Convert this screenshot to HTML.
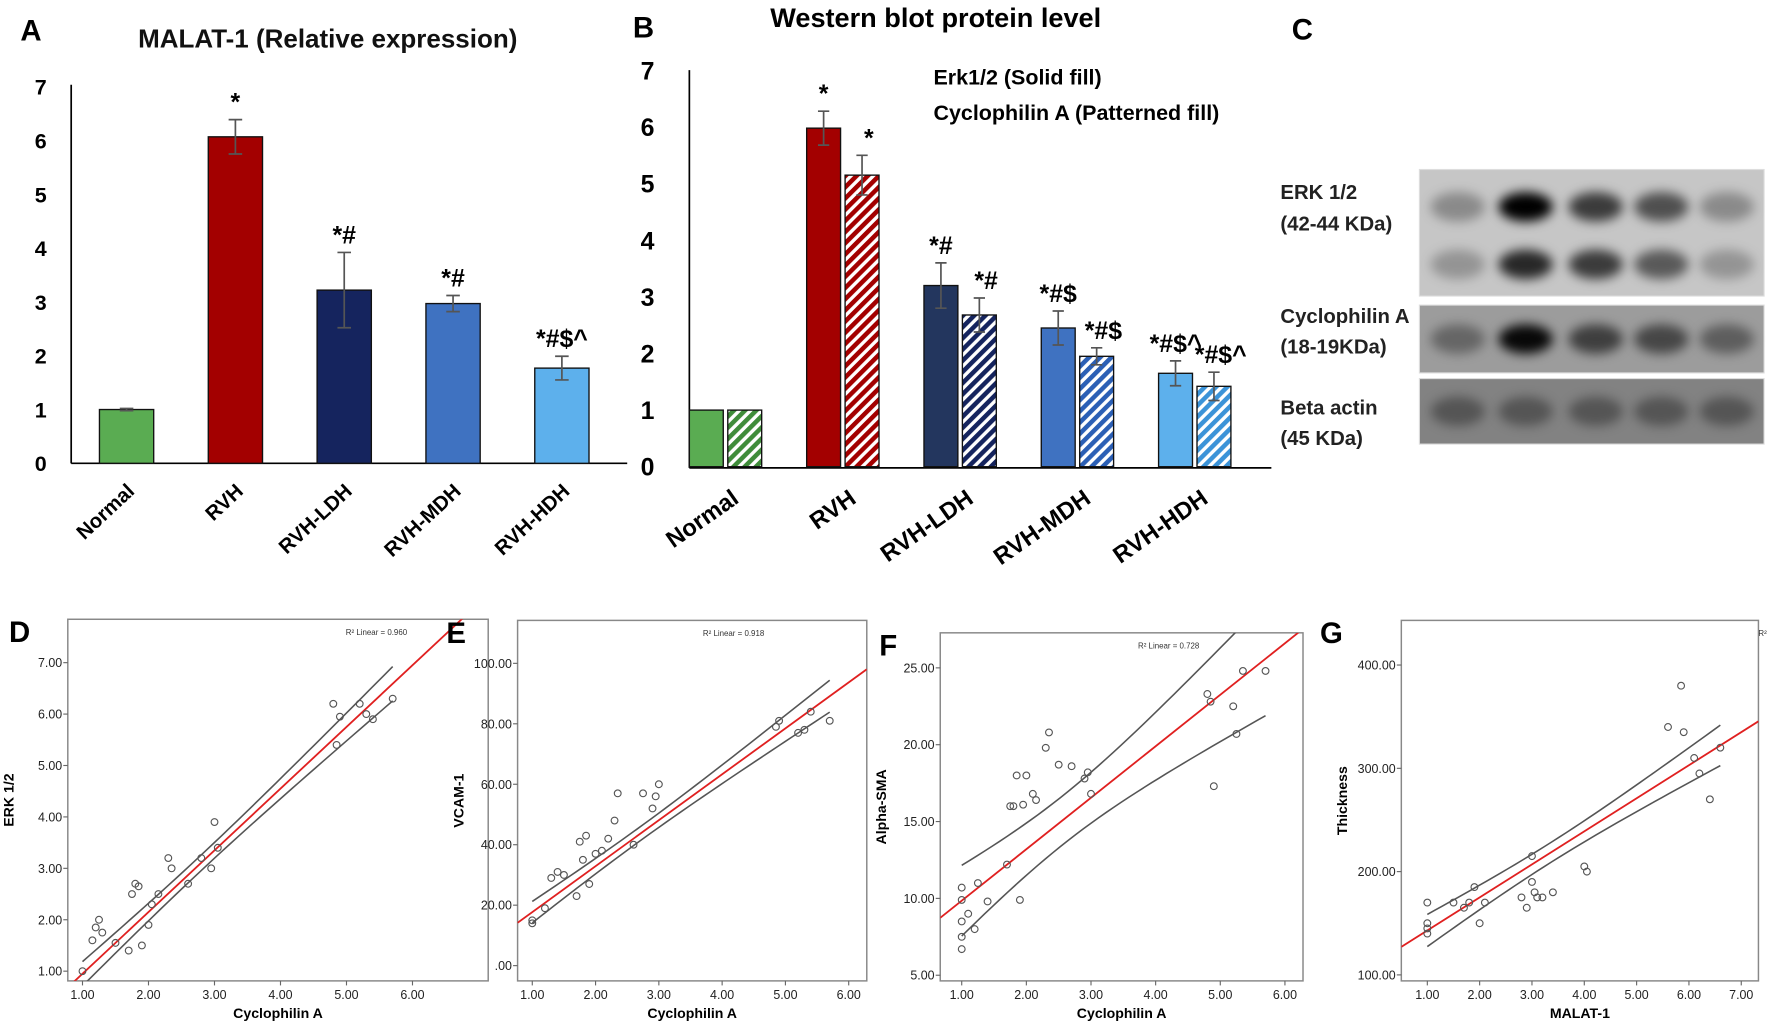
<!DOCTYPE html>
<html><head><meta charset="utf-8"><style>
html,body{margin:0;padding:0;background:#fff;}
svg{display:block;}
text{font-family:"Liberation Sans",sans-serif;}
</style></head><body>
<svg id="fig" width="1772" height="1034" viewBox="0 0 1568 915" preserveAspectRatio="none" xmlns="http://www.w3.org/2000/svg">
<defs>
<filter id="blur" x="-50%" y="-50%" width="200%" height="200%"><feGaussianBlur stdDeviation="5"/></filter>
</defs>
<g id="gA"></g>
<g id="gB"></g>
<g id="gC"></g>
<g id="gD"></g>
<g id="gE"></g>
<g id="gF"></g>
<g id="gG"></g>
</svg>
<script>
const NS="http://www.w3.org/2000/svg";
// ---- Panel A data ----
const catsA=["Normal","RVH","RVH-LDH","RVH-MDH","RVH-HDH"];
const valsA=[1.0,6.07,3.22,2.97,1.77];
const errA=[0.02,0.32,0.7,0.15,0.22];
const sigA=["","*","*#","*#","*#$^"];
const ticksA=[0,1,2,3,4,5,6,7];
// ---- Panel B data ----
const catsB=["Normal","RVH","RVH-LDH","RVH-MDH","RVH-HDH"];
const erkB=[1.0,5.98,3.2,2.45,1.65];
const erkErrB=[0.0,0.3,0.4,0.3,0.22];
const cypB=[1.0,5.15,2.68,1.95,1.42];
const cypErrB=[0.0,0.35,0.3,0.15,0.25];
const sigErkB=["","*","*#","*#$","*#$^"];
const sigCypB=["","*","*#","*#$","*#$^"];
const ticksB=[0,1,2,3,4,5,6,7];
// ---- Scatter data ----
const dX=[1.0,1.15,1.2,1.25,1.3,1.5,1.7,1.75,1.8,1.85,1.9,2.0,2.05,2.15,2.3,2.35,2.6,2.8,2.95,3.0,3.05,4.8,4.85,4.9,5.2,5.3,5.4,5.7];
const dY=[1.0,1.6,1.85,2.0,1.75,1.55,1.4,2.5,2.7,2.65,1.5,1.9,2.3,2.5,3.2,3.0,2.7,3.2,3.0,3.9,3.4,6.2,5.4,5.95,6.2,6.0,5.9,6.3];
const eX=[1.0,1.0,1.2,1.3,1.4,1.5,1.7,1.75,1.8,1.85,1.9,2.0,2.1,2.2,2.3,2.35,2.6,2.75,2.9,2.95,3.0,4.85,4.9,5.2,5.3,5.4,5.7];
const eY=[15,14,19,29,31,30,23,41,35,43,27,37,38,42,48,57,40,57,52,56,60,79,81,77,78,84,81];
const fX=[1.0,1.0,1.0,1.0,1.0,1.1,1.2,1.25,1.4,1.7,1.75,1.8,1.85,1.9,1.95,2.0,2.1,2.15,2.3,2.35,2.5,2.7,2.9,2.95,3.0,4.8,4.85,4.9,5.2,5.25,5.35,5.7];
const fY=[10.7,9.9,8.5,7.5,6.7,9.0,8.0,11.0,9.8,12.2,16,16,18,9.9,16.1,18,16.8,16.4,19.8,20.8,18.7,18.6,17.8,18.2,16.8,23.3,22.8,17.3,22.5,20.7,24.8,24.8];
const gX=[1.0,1.0,1.0,1.0,1.5,1.7,1.8,1.9,2.0,2.1,2.8,2.9,3.0,3.0,3.05,3.1,3.2,3.4,4.0,4.05,5.6,5.85,5.9,6.1,6.2,6.4,6.6];
const gY=[170,150,145,140,170,165,170,185,150,170,175,165,215,190,180,175,175,180,205,200,340,380,335,310,295,270,320];
const dFit=[-0.25,1.2], eFit=[2.5,15.2], fFit=[6.5,3.35], gFit=[111,32];
const dTicksY=[1,2,3,4,5,6,7], dTicksX=[1,2,3,4,5,6];
const eTicksY=[0,20,40,60,80,100], eTicksX=[1,2,3,4,5,6];
const fTicksY=[5,10,15,20,25], fTicksX=[1,2,3,4,5,6];
const gTicksY=[100,200,300,400], gTicksX=[1,2,3,4,5,6,7];

function el(parent,tag,attrs,txt){const e=document.createElementNS(NS,tag);for(const k in attrs)e.setAttribute(k,attrs[k]);if(txt!==undefined)e.textContent=txt;parent.appendChild(e);return e;}

// ================= Panel A =================
(function(){
const g=document.getElementById('gA');
const yA=v=>410-v*47.6;
const xA=i=>112+i*96.3;
let t=el(g,'text',{x:18,y:36,'font-size':26,'font-weight':'bold'},'A');

t=el(g,'text',{x:290,y:42,'font-size':23,'font-weight':'bold','text-anchor':'middle',fill:'#111'},'MALAT-1 (Relative expression)');

let l=el(g,'line',{x1:63,y1:75,x2:63,y2:410,stroke:'#000','stroke-width':1.5});

l=el(g,'line',{x1:63,y1:410,x2:555,y2:410,stroke:'#000','stroke-width':1.5});

ticksA.forEach(v=>{const tt=el(g,'text',{x:36,y:yA(v)+7,'font-size':19,'font-weight':'bold','text-anchor':'middle'},String(v));
});
const cols=['#5aac52','#a30000','#15245e','#3f72c1','#5db0ec'];
catsA.forEach((c,i)=>{
 const x=xA(i);
 const r=el(g,'rect',{x:x-24,y:yA(valsA[i]),width:48,height:410-yA(valsA[i]),fill:cols[i],stroke:'#111','stroke-width':1.2});
 
 const top=yA(valsA[i]+errA[i]),bot=yA(valsA[i]-errA[i]);
 const eb=el(g,'path',{d:`M${x},${top}V${bot}M${x-6},${top}H${x+6}M${x-6},${bot}H${x+6}`,stroke:'#555','stroke-width':1.5,fill:'none'});
 
 if(sigA[i]){const s=el(g,'text',{x:x,y:top-8,'font-size':22,'font-weight':'bold','text-anchor':'middle'},sigA[i]);
 }
 const lb=el(g,'text',{x:x+8,y:436,'font-size':18,'font-weight':'bold','text-anchor':'end',transform:`rotate(-43 ${x+8} 436)`},c);
 
});
})();

// ================= Panel B =================
(function(){
const g=document.getElementById('gB');
const yB=v=>413-v*50.1;
const xB=i=>625+i*103.8;
const defs=document.querySelector('defs');
const cols=['#5aac52','#a30000','#23365e','#3f72c1','#5db0ec'];
const dark=['#3f8c3a','#a30000','#15245e','#2b5fb5','#3b93d8'];
cols.forEach((c,i)=>{
 const p=el(defs,'pattern',{id:'hatch'+i,patternUnits:'userSpaceOnUse',width:7,height:7,patternTransform:'rotate(45)'});
 el(p,'rect',{x:0,y:0,width:7,height:7,fill:'#fff'});
 el(p,'rect',{x:0,y:0,width:4,height:7,fill:dark[i]});
});
let t=el(g,'text',{x:560,y:33,'font-size':26,'font-weight':'bold'},'B');

t=el(g,'text',{x:828,y:24,'font-size':24,'font-weight':'bold','text-anchor':'middle'},'Western blot protein level');

t=el(g,'text',{x:826,y:75,'font-size':19,'font-weight':'bold'},'Erk1/2 (Solid fill)');

t=el(g,'text',{x:826,y:106,'font-size':19,'font-weight':'bold'},'Cyclophilin A (Patterned fill)');

let l=el(g,'line',{x1:610,y1:62,x2:610,y2:414,stroke:'#000','stroke-width':1.5});

l=el(g,'line',{x1:610,y1:414,x2:1125,y2:414,stroke:'#000','stroke-width':1.5});

ticksB.forEach(v=>{const tt=el(g,'text',{x:573,y:yB(v)+8,'font-size':22,'font-weight':'bold','text-anchor':'middle'},String(v));
});
catsB.forEach((c,i)=>{
 const x=xB(i);
 [[erkB,erkErrB,sigErkB,0,cols[i]],[cypB,cypErrB,sigCypB,34,'url(#hatch'+i+')']].forEach(([vals,errs,sig,off,fill],k)=>{
  const cx=x+off;
  const r=el(g,'rect',{x:cx-15,y:yB(vals[i]),width:30,height:413-yB(vals[i]),fill:fill,stroke:'#111','stroke-width':1.2});
  
  const top=yB(vals[i]+errs[i]),bot=yB(vals[i]-errs[i]);
  if(errs[i]>0){const eb=el(g,'path',{d:`M${cx},${top}V${bot}M${cx-5},${top}H${cx+5}M${cx-5},${bot}H${cx+5}`,stroke:'#555','stroke-width':1.5,fill:'none'});
  }
  if(sig[i]){const s=el(g,'text',{x:cx+(k?6:0),y:top-8,'font-size':22,'font-weight':'bold','text-anchor':'middle'},sig[i]);
  }
 });
 const lb=el(g,'text',{x:x+30,y:444,'font-size':21,'font-weight':'bold','text-anchor':'end',transform:`rotate(-35 ${x+30} 444)`},c);
 
});
})();

// ================= Panel C =================
(function(){
const g=document.getElementById('gC');
let t=el(g,'text',{x:1143,y:35,'font-size':26,'font-weight':'bold'},'C');

const labels=[['ERK 1/2',176],['(42-44 KDa)',204],['Cyclophilin A',286],['(18-19KDa)',313],['Beta actin',367],['(45 KDa)',394]];
labels.forEach(([s,y])=>{const tt=el(g,'text',{x:1133,y:y,'font-size':18,'font-weight':'bold',fill:'#222'},s);
});
const lanes=[1290,1350,1412,1470,1528];
const blots=[{y:150,h:112,bg:'#c6c6c6',rows:[[183,[.3,1,.7,.6,.3]],[234,[.25,.8,.7,.55,.25]]],name:'erk-blot'},
 {y:270,h:60,bg:'#9c9c9c',rows:[[300,[.35,.95,.6,.55,.4]]],name:'cyclophilin-blot'},
 {y:335,h:58,bg:'#828282',rows:[[364,[.35,.35,.35,.35,.35]]],name:'beta-actin-blot'}];
blots.forEach(b=>{
 const r=el(g,'rect',{x:1256,y:b.y,width:305,height:b.h,fill:b.bg,stroke:'#ddd','stroke-width':1});
 
 b.rows.forEach(([y,ints])=>ints.forEach((a,i)=>{
  const e=el(g,'ellipse',{cx:lanes[i],cy:y,rx:24,ry:13,fill:'#000','fill-opacity':a,filter:'url(#blur)'});
  
 }));
});
})();

// ================= Scatter panels =================
function scatter(id,cfg){
 const g=document.getElementById(id);
 const {box,xv,yv,xs,ys,fit,tx,ty,fmtY,letter,lx,xt,yt,r2}=cfg;
 const X=v=>xv[1]+(v-xv[0])*xs, Y=v=>yv[1]-(v-yv[0])*ys;
 let t=el(g,'text',{x:lx,y:box[1]+20,'font-size':26,'font-weight':'bold'},letter);
 
 const cp='cp'+id;
 const c=el(document.querySelector('defs'),'clipPath',{id:cp});el(c,'rect',{x:box[0],y:box[1],width:box[2]-box[0],height:box[3]-box[1]});
 const fr=el(g,'rect',{x:box[0],y:box[1],width:box[2]-box[0],height:box[3]-box[1],fill:'#fff',stroke:'#888','stroke-width':1.3});
 
 ty.forEach(v=>{const y=Y(v);el(g,'line',{x1:box[0]-4,x2:box[0],y1:y,y2:y,stroke:'#666'});
  const tt=el(g,'text',{x:box[0]-5,y:y+4,'font-size':11,'text-anchor':'end',fill:'#222'},fmtY(v));
  });
 tx.forEach(v=>{const x=X(v);el(g,'line',{x1:x,x2:x,y1:box[3],y2:box[3]+4,stroke:'#666'});
  const tt=el(g,'text',{x:x,y:box[3]+16,'font-size':11,'text-anchor':'middle',fill:'#222'},v.toFixed(2));
  });
 t=el(g,'text',{x:(box[0]+box[2])/2,y:box[3]+33,'font-size':12.5,'font-weight':'bold','text-anchor':'middle'},xt);
 
 const ytx=box[0]-48, yty=(box[1]+box[3])/2;
 t=el(g,'text',{x:ytx,y:yty,'font-size':12.5,'font-weight':'bold','text-anchor':'middle',transform:`rotate(-90 ${ytx} ${yty})`},yt);
 
 t=el(g,'text',{x:r2[0],y:box[1]+14,'font-size':7,fill:'#333'},r2[1]);
 
 const cg=el(g,'g',{'clip-path':`url(#${cp})`});
 const xmin=Math.min(...xs_(xv,xs,box)), xmax=Math.max(...xs_(xv,xs,box));
 const dmin=Math.min(...cfg.px), dmax=Math.max(...cfg.px);
 const f=v=>fit[0]+fit[1]*v;
 const mean=cfg.px.reduce((a,b)=>a+b,0)/cfg.px.length;
 const sxx=cfg.px.reduce((a,b)=>a+(b-mean)*(b-mean),0);
 [1,-1].forEach(s=>{let d='';for(let k=0;k<=40;k++){const v=dmin+(dmax-dmin)*k/40;const w=cfg.band*Math.sqrt(1/cfg.px.length+(v-mean)*(v-mean)/sxx);d+=(k?'L':'M')+X(v)+','+Y(f(v)+s*w);}
  const p=el(cg,'path',{d:d,stroke:'#555','stroke-width':1.4,fill:'none'});
  });
 const fl=el(cg,'line',{x1:X(xmin),y1:Y(f(xmin)),x2:X(xmax),y2:Y(f(xmax)),stroke:'#e02020','stroke-width':1.6});
 
 cfg.px.forEach((v,i)=>{const p=el(cg,'circle',{cx:X(v),cy:Y(cfg.py[i]),r:3,fill:'none',stroke:'#555','stroke-width':1});
  });
}
function xs_(xv,xs,box){return [xv[0]+(box[0]-xv[1])/xs, xv[0]+(box[2]-xv[1])/xs];}

scatter('gD',{box:[60,548,432,868],xv:[1,73],yv:[1,859.4],xs:58.4,ys:45.5,px:dX,py:dY,fit:dFit,tx:dTicksX,ty:dTicksY,fmtY:v=>v.toFixed(2),letter:'D',lx:8,xt:'Cyclophilin A',yt:'ERK 1/2',r2:[306,'R² Linear = 0.960'],band:0.8});
scatter('gE',{box:[458,549,767,868],xv:[1,471],yv:[0,854.5],xs:56,ys:2.675,px:eX,py:eY,fit:eFit,tx:eTicksX,ty:eTicksY,fmtY:v=>v===0?'.00':v.toFixed(2),letter:'E',lx:395,xt:'Cyclophilin A',yt:'VCAM-1',r2:[622,'R² Linear = 0.918'],band:12});
scatter('gF',{box:[832,560,1153,868],xv:[1,851],yv:[5,863],xs:57.2,ys:13.6,px:fX,py:fY,fit:fFit,tx:fTicksX,ty:fTicksY,fmtY:v=>v.toFixed(2),letter:'F',lx:778,xt:'Cyclophilin A',yt:'Alpha-SMA',r2:[1007,'R² Linear = 0.728'],band:9});
scatter('gG',{box:[1240,549,1556,868],xv:[1,1263],yv:[100,862.7],xs:46.3,ys:0.914,px:gX,py:gY,fit:gFit,tx:gTicksX,ty:gTicksY,fmtY:v=>v.toFixed(2),letter:'G',lx:1168,xt:'MALAT-1',yt:'Thickness',r2:[1556,'R²'],band:50});
</script>
</body></html>
